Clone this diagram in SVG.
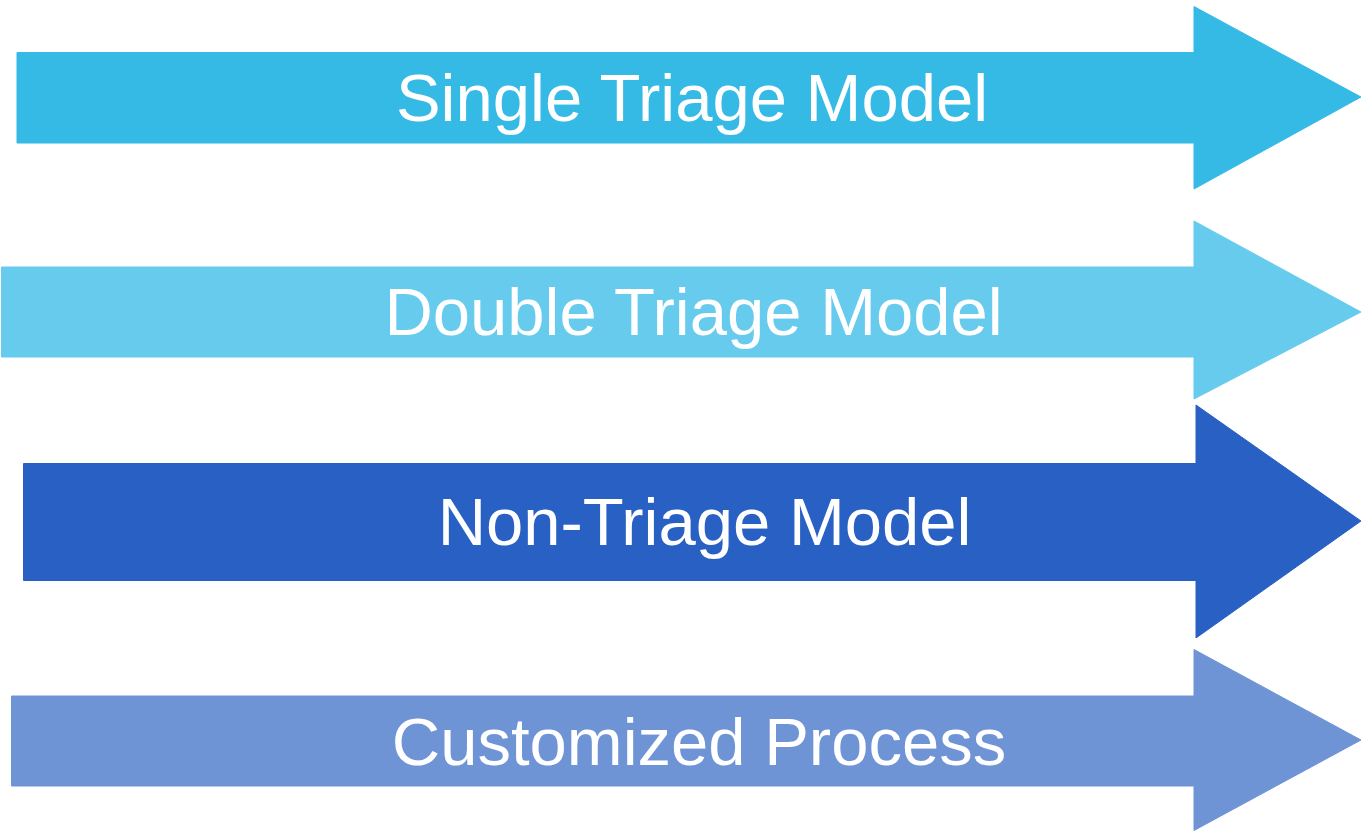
<svg xmlns="http://www.w3.org/2000/svg" width="1361" height="831" viewBox="0 0 1361 831">
<style>
.lbl{font-family:"Liberation Sans",Arial,sans-serif;font-size:67px;fill:#ffffff;text-anchor:middle}
.arr{stroke-linejoin:round;stroke-width:1}
</style>
<rect width="1361" height="831" fill="#ffffff"/>
<g id="connectors"></g>
<g id="single">
<polygon class="arr" fill="#35BAE6" stroke="#35BAE6" points="17,52.5 1194,52.5 1194,6.5 1361,97 1194,189 1194,143 17,143"/>
<text class="lbl" x="692" y="121">Single Triage Model</text>
</g>
<g id="double">
<polygon class="arr" fill="#67CBEE" stroke="#67CBEE" points="1.5,267 1194,267 1194,221 1361,312 1194,399 1194,357 1.5,357"/>
<text class="lbl" x="693.5" y="335">Double Triage Model</text>
</g>
<g id="nontriage">
<polygon class="arr" fill="#2860C3" stroke="#2860C3" points="23.5,463.5 1196,463.5 1196,405 1361,521 1196,638 1196,580.5 23.5,580.5"/>
<text class="lbl" x="704.5" y="545">Non-Triage Model</text>
</g>
<g id="customized">
<polygon class="arr" fill="#6F94D5" stroke="#6F94D5" points="11.5,696 1194,696 1194,649.5 1361,740 1194,830.5 1194,786 11.5,786"/>
<text class="lbl" x="699" y="765">Customized Process</text>
</g>
</svg>
